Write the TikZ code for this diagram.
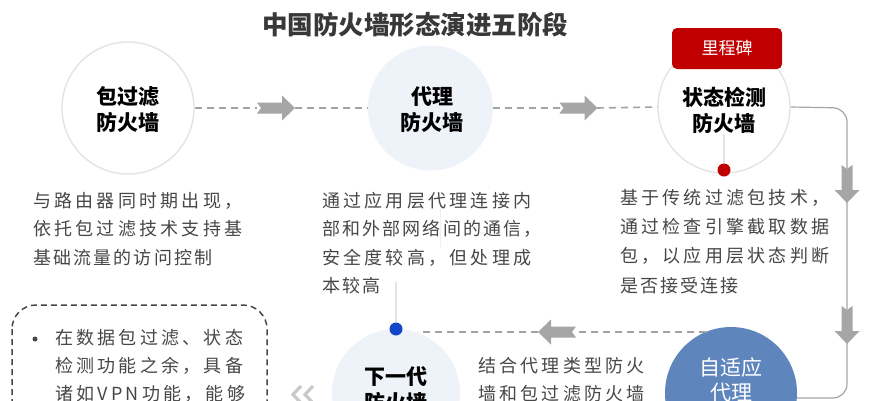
\documentclass[tikz,border=0pt]{standalone}
\usepackage{fontspec}
\newfontfamily\cjk{Noto Sans CJK SC}
\newfontfamily\cjkA{Noto Sans CJK SC}[LetterSpace=18]
\newfontfamily\cjkB{Noto Sans CJK SC}[LetterSpace=12]
\definecolor{txtgray}{HTML}{474747}
\definecolor{titlegray}{HTML}{383838}
\definecolor{ringgray}{HTML}{E4E4E4}
\definecolor{softblue}{HTML}{EEF2F9}
\definecolor{steel}{HTML}{5F85BD}
\definecolor{msred}{HTML}{C00000}
\definecolor{dotblue}{HTML}{1446C8}
\definecolor{dashgray}{HTML}{A3A3A3}
\definecolor{arrowgray}{HTML}{A6A6A6}
\definecolor{chevgray}{HTML}{C9C9C9}
\newcommand\flowarrow[2]{\fill[arrowgray, shift={(#1)}, rotate=#2] (-19,-5.5) -- (6,-5.5) -- (6,-12.5) -- (19,0) -- (6,12.5) -- (6,5.5) -- (-19,5.5) -- (-15,0) -- cycle;}
\begin{document}
\begin{tikzpicture}[x=1pt,y=-1pt,
  titlest/.style={inner sep=0pt, text=titlegray, font=\cjk\bfseries\fontsize{25.5}{30}\selectfont},
  ring/.style={circle, draw=ringgray, line width=1.4pt, fill=white, inner sep=0pt},
  softfill/.style={circle, fill=softblue, inner sep=0pt},
  bluefill/.style={circle, fill=steel, inner sep=0pt},
  ctext/.style={align=center, inner sep=0pt, text=black, font=\cjk\bfseries\fontsize{21}{26}\selectfont},
  body/.style={anchor=north west, inner sep=0pt, align=left, text=txtgray, font=\cjkA\fontsize{18}{28.5}\selectfont},
  milestone/.style={rectangle, rounded corners=5pt, fill=msred, text=white, minimum width=110pt, minimum height=41pt, inner sep=0pt, font=\cjk\fontsize{17}{20}\selectfont},
  dotst/.style={circle, minimum size=13pt, inner sep=0pt},
  dashline/.style={draw=dashgray, line width=1.6pt, dash pattern=on 7pt off 5pt},
  conn/.style={draw=arrowgray, line width=1.2pt},
  thinline/.style={draw=ringgray, line width=1.2pt},
  chev/.style={draw=chevgray, line width=3.2pt},
  boxdash/.style={draw=txtgray, line width=1.5pt, dash pattern=on 6pt off 4pt}
]
\useasboundingbox (0,0) rectangle (877,400);
\clip (0,0) rectangle (877,400);
\fill[white] (0,0) rectangle (877,400);

\node[titlest] (title) at (415,25) {中国防火墙形态演进五阶段};

% faint guide lines
\coordinate (f1) at (440,207);
\coordinate (f2) at (440,247);
\draw[draw=ringgray!60, line width=1pt] (f1) -- (f2);

% circles
\node[ring, minimum size=132pt] (c1) at (128,108) {};
\node[softfill, minimum size=125pt] (c2) at (430.5,108) {};
\node[ring, minimum size=132pt] (c3) at (724,107) {};
\node[softfill, minimum size=128pt] (c4) at (396,393) {};
\node[bluefill, minimum size=132pt] (c5) at (731,393) {};

% circle labels
\node[ctext] (l1) at (128,109) {包过滤\\防火墙};
\node[ctext] (l2) at (432,110) {代理\\防火墙};
\node[ctext] (l3) at (724,110.5) {状态检测\\防火墙};
\node[ctext] (l4) at (396,390) {下一代\\防火墙};
\node[ctext, text=white, font=\cjk\fontsize{21}{25}\selectfont] (l5) at (731,380) {自适应\\代理};

% milestone
\node[milestone] (ms) at (727,48.5) {里程碑};
\node[dotst, fill=msred] (rd) at (724,170) {};
\draw[thinline] (l3.south) -- (rd);

% top row connectors
\coordinate (a1) at (276,108);
\coordinate (a1t) at (257,108);
\coordinate (a1h) at (295,108);
\coordinate (a2) at (578.5,108);
\coordinate (a2t) at (560,108);
\coordinate (a2h) at (597,108);
\draw[dashline] (c1.east) -- (a1t);
\draw[dashline] (a1h) -- (c2.west);
\draw[dashline] (c2.east) -- (a2t);
\draw[dashline] (a2h) -- (c3.west);
\flowarrow{a1}{0}
\flowarrow{a2}{0}

% right connector
\coordinate (k1) at (847,108);
\coordinate (k2) at (847,398);
\coordinate (k3) at (797,398);
\draw[conn, rounded corners=14pt] (c3.east) -- (k1) -- (k2) -- (k3);
\coordinate (a3) at (847,184);
\coordinate (a4) at (847,325);
\flowarrow{a3}{-90}
\flowarrow{a4}{-90}

% bottom row connectors
\coordinate (d1) at (706,332);
\coordinate (a5) at (557,332);
\coordinate (a5t) at (576,332);
\coordinate (a5h) at (538,332);
\coordinate (d2) at (418,332);
\draw[dashline] (d1) -- (a5t);
\draw[dashline] (a5h) -- (d2);
\flowarrow{a5}{180}

% blue dot
\coordinate (bt) at (396,282);
\node[dotst, fill=dotblue] (bd) at (396,329) {};
\draw[thinline] (bt) -- (bd);

% chevrons
\draw[chev] (301,386) -- (293,394.5) -- (301,403);
\draw[chev] (313,386) -- (305,394.5) -- (313,403);

% descriptions
\node[body] (t1) at (33,192) {与路由器同时期出现，\\依托包过滤技术支持基\\{\cjkB 基础流量的访问控制}};
\node[body] (t2) at (322,192) {通过应用层代理连接内\\{\cjkB 部和外部网络间的通信，}\\安全度较高，但处理成\\{\cjkB 本较高}};
\node[body, font=\cjkA\fontsize{18}{29.2}\selectfont] (t3) at (620,189) {基于传统过滤包技术，\\通过检查引擎截取数据\\包，以应用层状态判断\\{\cjkB 是否接受连接}};
\node[body, font=\cjkA\fontsize{18}{28}\selectfont] (t4) at (478,357) {结合代理类型防火\\墙和包过滤防火墙};

% dashed box
\draw[boxdash, rounded corners=24pt] (12,305) rectangle (267,450);
\node[circle, fill=txtgray, minimum size=5pt, inner sep=0pt] (bul) at (35,339) {};
\node[body, font=\cjkA\fontsize{18}{28}\selectfont] (t5) at (55,329) {在数据包过滤、状态\\检测功能之余，具备\\诸如VPN功能，能够};
\end{tikzpicture}
\end{document}
